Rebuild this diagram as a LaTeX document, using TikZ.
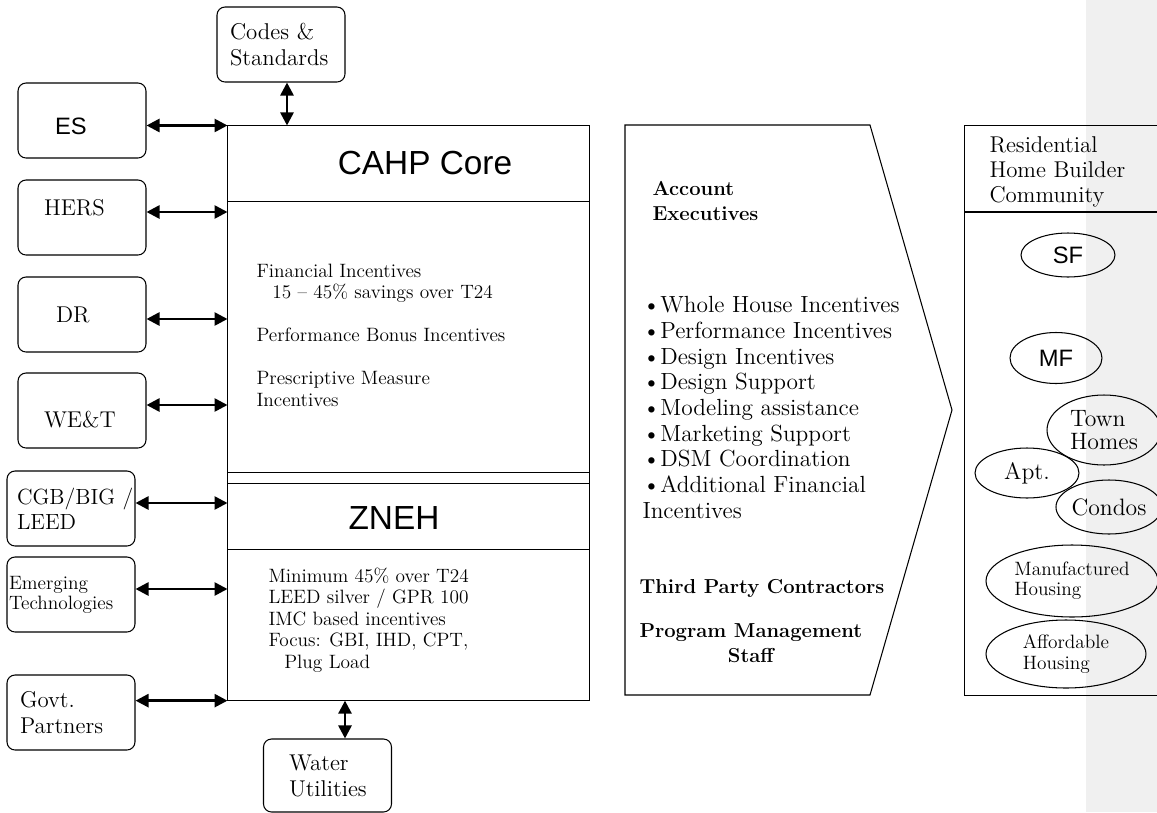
\documentclass[tikz,border=0pt]{standalone}
\usepackage{fontspec}
\setsansfont{Liberation Sans}
\usetikzlibrary{arrows.meta,positioning,shapes.geometric}

\begin{document}
\begin{tikzpicture}[
  x=0.02cm, y=-0.02cm, line width=0.6pt,
  partner/.style={rectangle, draw, rounded corners=1.6mm, align=left,
                  minimum width=2.56cm, minimum height=1.5cm, inner sep=1pt,
                  font=\fontsize{13}{14.8}\selectfont},
  part/.style={rectangle, minimum width=7.22cm, inner sep=0pt},
  hdr/.style={font=\sffamily\fontsize{19}{20}\selectfont},
  bodytext/.style={align=left, anchor=base west, inner sep=0pt,
                   font=\fontsize{11}{12.2}\selectfont},
  boldtext/.style={align=left, anchor=base west, inner sep=0pt,
                   font=\bfseries\fontsize{11.5}{14.2}\selectfont},
  home/.style={ellipse, draw, inner sep=0pt, align=left,
               font=\fontsize{13.5}{13}\selectfont},
  dbl/.style={{Triangle[length=2.6mm,width=2.6mm]}-{Triangle[length=2.6mm,width=2.6mm]},
              line width=1.5pt}
]
\useasboundingbox (0,0) rectangle (1157,812);
\fill[black!6] (1086,0) rectangle (1157,812);

% partners round the core
\node[partner, text width=2.04cm] (codes) at (281,44.5) {Codes \&\\Standards};
\node[partner, text width=1.08cm, font=\sffamily\fontsize{13.5}{14}\selectfont,
      text height=0.55cm] (es) at (82,120.5) {ES};
\node[partner, text width=1.52cm, text depth=0.4cm] (hers) at (82,217.5) {HERS};
\node[partner, text width=1.04cm] (dr) at (82,314.5) {DR};
\node[partner, text width=1.52cm, text height=0.7cm] (wet) at (82,410.5) {WE\&T};
\node[partner, text width=2.16cm, font=\fontsize{12.5}{14.5}\selectfont] (cgb) at (71,508.5) {\mbox{CGB/BIG /}\\LEED};
\node[partner, text width=2.48cm, font=\fontsize{11}{11.3}\selectfont] (emerg) at (71,594.5) {Emerging\\Technologies};
\node[partner, text width=2.04cm] (govt) at (71,712.5) {Govt.\\Partners};
\node[partner, text width=1.54cm, minimum height=1.46cm] (water) at (327.5,775.5) {Water\\Utilities};

% core program box
\node[part, minimum height=1.5cm] (cahp) at (408.5,163.5) {};
\node[part, minimum height=5.4cm, below=0pt of cahp] (cahpbody) {};
\node[part, minimum height=0.2cm, below=0pt of cahpbody] (gap) {};
\node[part, minimum height=1.3cm, below=0pt of gap] (zneh) {};
\node[part, minimum height=3cm, below=0pt of zneh] (znehbody) {};
\draw (cahp.north west) rectangle (znehbody.south east);
\draw (cahp.south west) -- (cahp.south east);
\draw (gap.north west) rectangle (gap.south east);
\draw (zneh.south west) -- (zneh.south east);
\node[hdr] (cahpname) at (425,163.5) {CAHP Core};
\node[hdr] (znehname) at (394,518.5) {ZNEH};
\node[bodytext] (cahptext) at (256,406) {Financial Incentives\\
  \hspace*{9pt}15 -- 45\% savings over T24\\[12.2pt]
  Performance Bonus Incentives\\[12.2pt]
  Prescriptive Measure\\Incentives};
\node[bodytext] (znehtext) at (268,668) {Minimum 45\% over T24\\
  LEED silver / GPR 100\\IMC based incentives\\
  Focus: GBI, IHD, CPT,\\\hspace*{9pt}Plug Load};

\draw[dbl] (codes.south -| 287,0) -- (cahp.north -| 287,0);
\draw[dbl] (es.east |- cahp.north) -- (cahp.north west);
\draw[dbl] (hers.east |- 0,212) -- (cahpbody.west |- 0,212);
\draw[dbl] (dr.east |- 0,319) -- (cahpbody.west |- 0,319);
\draw[dbl] (wet.east |- 0,405) -- (cahpbody.west |- 0,405);
\draw[dbl] (cgb.east |- 0,503) -- (zneh.west |- 0,503);
\draw[dbl] (emerg.east |- 0,589) -- (znehbody.west |- 0,589);
\draw[dbl] (govt.east |- znehbody.south) -- (znehbody.south west);
\draw[dbl] (znehbody.south -| 345,0) -- (water.north -| 345,0);

% delivery arrow
\draw (625,125) -- (870,125) -- (952,410) -- (870,695) -- (625,695) -- cycle;
\node[boldtext] (acct) at (652,220) {Account\\Executives};
\node[bodytext, font=\fontsize{13.3}{14.6}\selectfont] (offer) at (642,518) {%
  \textbullet Whole House Incentives\\\textbullet Performance Incentives\\
  \textbullet Design Incentives\\\textbullet Design Support\\
  \textbullet Modeling assistance\\\textbullet Marketing Support\\
  \textbullet DSM Coordination\\\textbullet Additional Financial\\Incentives};
\node[boldtext] (third) at (639,593) {Third Party Contractors};
\node[boldtext, align=center] (staff) at (639,662) {Program Management\\Staff};

% builder community
\node[rectangle, draw, minimum width=5cm, minimum height=11.4cm, inner sep=0pt,
      anchor=north west] (builders) at (964,125) {};
\draw (builders.west |- 0,212) -- (builders.east |- 0,212);
\node[bodytext, font=\fontsize{13}{14.2}\selectfont] (community) at (989,202) {Residential\\Home Builder\\Community};
\node[home, font=\sffamily\fontsize{13.5}{14}\selectfont, minimum width=1.88cm, minimum height=0.88cm] (sf) at (1068,255) {SF};
\node[home, font=\sffamily\fontsize{13.5}{14}\selectfont, minimum width=1.84cm, minimum height=1.02cm] (mf) at (1056,358) {MF};
\node[home, minimum width=2.28cm, minimum height=1.4cm] (town) at (1104,430) {Town\\Homes};
\node[home, minimum width=2.08cm, minimum height=1cm] (apt) at (1027,473) {Apt.};
\node[home, minimum width=2.08cm, minimum height=1.08cm] (condo) at (1109,507) {Condos};
\node[home, font=\fontsize{11}{11.5}\selectfont, minimum width=3.44cm, minimum height=1.44cm] (manuf) at (1072,581) {Manufactured\\Housing};
\node[home, font=\fontsize{11}{11.5}\selectfont, minimum width=3.2cm, minimum height=1.36cm] (afford) at (1066,654) {Affordable\\Housing};
\end{tikzpicture}
\end{document}
